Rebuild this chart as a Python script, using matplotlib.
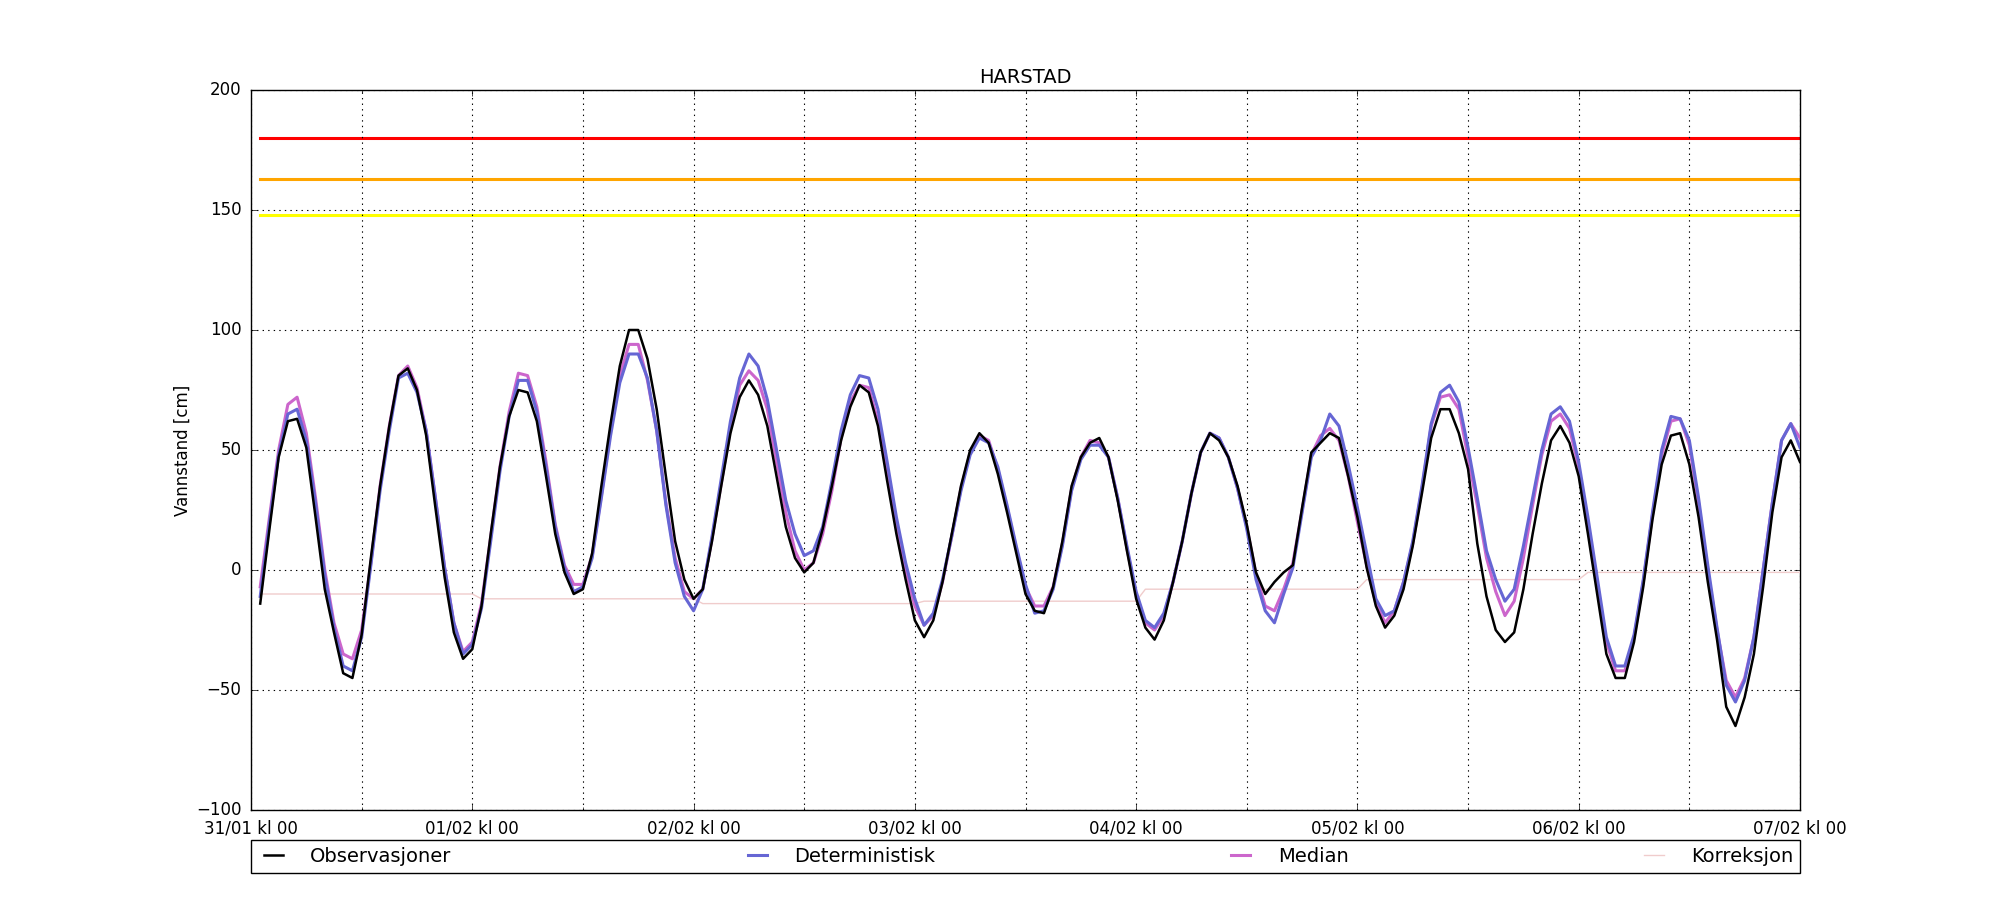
import datetime as dt
import numpy as np
import matplotlib
matplotlib.use('Agg')
import matplotlib.pyplot as plt
import matplotlib.dates as mdates

# hourly values, first value at 31/01 kl 01
obs = [-14, 17, 47, 62, 63, 51, 22, -8, -26, -43, -45, -27,
       5, 35, 60, 81, 84, 75, 56, 26, -3, -26, -37, -33,
       -15, 15, 43, 64, 75, 74, 62, 39, 15, -1, -10, -8,
       7, 35, 61, 85, 100, 100, 88, 67, 39, 12, -4, -12,
       -8, 12, 35, 57, 72, 79, 73, 60, 39, 18, 5, -1,
       3, 17, 35, 54, 68, 77, 74, 60, 37, 15, -4, -21,
       -28, -21, -5, 15, 35, 50, 57, 53, 40, 24, 7, -10,
       -17, -18, -7, 12, 35, 47, 53, 55, 47, 29, 8, -12,
       -24, -29, -21, -5, 12, 32, 49, 57, 54, 47, 35, 19,
       -1, -10, -5, -1, 2, 26, 49, 53, 57, 55, 39, 22,
       1, -15, -24, -19, -8, 10, 32, 55, 67, 67, 57, 42,
       11, -11, -25, -30, -26, -8, 15, 36, 54, 60, 53, 39,
       15, -10, -35, -45, -45, -30, -7, 21, 44, 56, 57, 44,
       22, -5, -29, -57, -65, -53, -35, -7, 24, 47, 54, 45]

det = [-11, 20, 48, 65, 67, 54, 28, -2, -24, -40, -42, -28,
       2, 33, 58, 80, 82, 74, 58, 30, 1, -22, -35, -31,
       -16, 12, 41, 64, 79, 79, 66, 43, 18, 1, -9, -7,
       5, 30, 56, 78, 90, 90, 80, 58, 27, 3, -11, -17,
       -8, 14, 38, 62, 80, 90, 85, 71, 50, 29, 15, 6,
       8, 18, 37, 58, 73, 81, 80, 67, 45, 22, 3, -12,
       -23, -18, -4, 14, 33, 48, 55, 53, 43, 27, 10, -6,
       -18, -17, -8, 10, 33, 46, 52, 52, 47, 30, 10, -9,
       -21, -24, -18, -5, 12, 32, 49, 57, 55, 47, 34, 17,
       -4, -17, -22, -10, 1, 24, 47, 54, 65, 60, 44, 26,
       7, -12, -19, -17, -5, 12, 35, 61, 74, 77, 70, 51,
       30, 8, -4, -13, -8, 10, 30, 50, 65, 68, 62, 45,
       22, -3, -28, -40, -40, -27, -4, 24, 50, 64, 63, 54,
       30, 2, -24, -48, -55, -46, -28, 0, 28, 54, 61, 51]

med = [-7, 22, 50, 69, 72, 57, 30, 0, -22, -35, -37, -25,
       3, 35, 60, 81, 85, 76, 58, 30, 1, -22, -34, -30,
       -14, 14, 43, 66, 82, 81, 68, 45, 19, 2, -6, -6,
       6, 31, 58, 81, 94, 94, 79, 58, 28, 5, -9, -12,
       -8, 13, 36, 59, 77, 83, 79, 67, 45, 24, 8, 0,
       3, 15, 33, 55, 70, 77, 76, 62, 41, 19, 0, -15,
       -23, -19, -5, 14, 34, 49, 56, 54, 42, 26, 9, -7,
       -15, -15, -7, 11, 34, 47, 54, 53, 47, 30, 9, -10,
       -22, -25, -19, -5, 12, 32, 49, 57, 55, 47, 34, 18,
       -2, -15, -17, -8, 3, 25, 48, 56, 59, 54, 39, 20,
       2, -14, -22, -17, -5, 11, 34, 60, 72, 73, 67, 47,
       27, 5, -9, -19, -13, 5, 27, 48, 62, 65, 59, 43,
       20, -5, -30, -42, -42, -28, -5, 23, 48, 62, 63, 52,
       28, 0, -25, -46, -53, -45, -28, 0, 28, 54, 61, 55]

# correction per forecast day (constant within each day)
korr_daily = [-10, -12, -14, -13, -8, -4, -1]

# warning levels
levels = [180, 163, 148]
level_colors = ['red', '#ffa500', 'yellow']

start = dt.datetime(2017, 1, 31, 1)
times = [start + dt.timedelta(hours=i) for i in range(len(obs))]
korr = np.repeat(korr_daily, 24)

plt.style.use('classic')
plt.rcParams['font.family'] = ['DejaVu Sans']

fig = plt.figure(figsize=(20, 9), dpi=100, facecolor='white')
ax = fig.add_subplot(111)

for lvl, c in zip(levels, level_colors):
    ax.plot(times, [lvl] * len(times), color=c, lw=2.2, zorder=2)

l_korr, = ax.plot(times, korr, color='#f0cccc', lw=1.0, label='Korreksjon', zorder=3)
l_med, = ax.plot(times, med, color='#cc66cc', lw=2.2, label='Median', zorder=4)
l_det, = ax.plot(times, det, color='#6666d4', lw=2.2, label='Deterministisk', zorder=5)
l_obs, = ax.plot(times, obs, color='black', lw=1.8, label='Observasjoner', zorder=6)

ax.set_xlim(dt.datetime(2017, 1, 31, 0), dt.datetime(2017, 2, 7, 0))
ax.set_ylim(-100, 200)
ax.set_yticks(np.arange(-100, 201, 50))

ax.xaxis.set_major_locator(mdates.DayLocator())
ax.xaxis.set_minor_locator(mdates.HourLocator(byhour=[12]))
ax.xaxis.set_major_formatter(mdates.DateFormatter('%d/%m kl %H'))

ax.grid(True, which='major', color='k', linestyle=':', lw=0.8)
ax.grid(True, which='minor', axis='x', color='k', linestyle=':', lw=0.8)
ax.tick_params(axis='both', which='major', labelsize=12, pad=7)

ax.set_title('HARSTAD', fontsize=14)
ax.set_ylabel('Vannstand [cm]', fontsize=12, labelpad=3)

ax.legend(handles=[l_obs, l_det, l_med, l_korr], loc='upper left',
          bbox_to_anchor=(0., -0.042, 1., 0.), mode='expand', ncol=4,
          borderaxespad=0., fontsize=14, handlelength=1.6, handletextpad=1.1,
          borderpad=0.35, frameon=True, fancybox=False)

fig.subplots_adjust(left=0.1255, right=0.9, top=0.9, bottom=0.1)
fig.savefig('out.png', dpi=100, facecolor='white')
